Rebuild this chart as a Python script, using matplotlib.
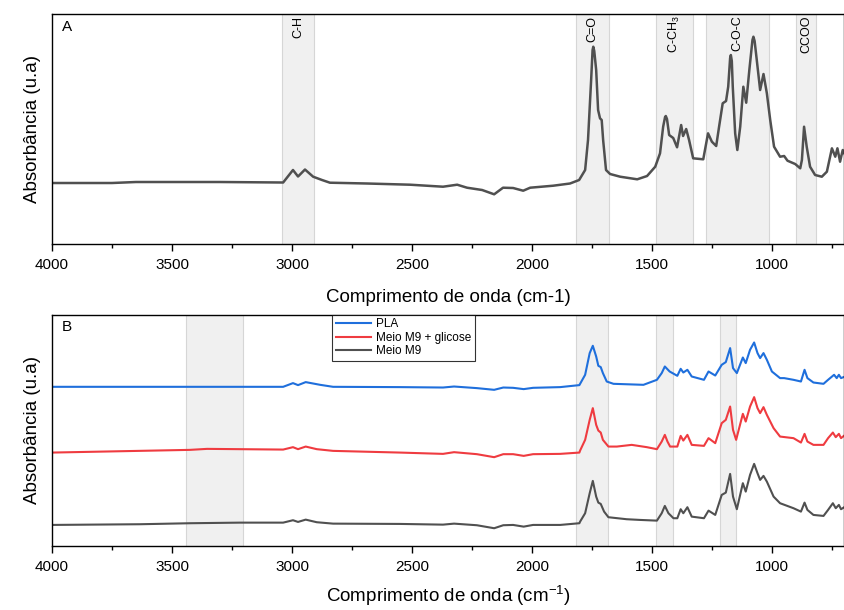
import matplotlib
matplotlib.use("Agg")
import matplotlib.pyplot as plt
from matplotlib.ticker import MultipleLocator

plt.rcParams['font.family'] = ['Liberation Sans', 'DejaVu Sans']
plt.rcParams['mathtext.fontset'] = 'custom'
plt.rcParams['mathtext.rm'] = 'Liberation Sans'
plt.rcParams['mathtext.it'] = 'Liberation Sans:italic'

# --- espectro do PLA (painel A), absorbancia relativa a linha de base ---
wn_a = [4000, 3750, 3650, 3300, 3037, 2996, 2975, 2946, 2912, 2875, 2842, 2687,
        2508, 2371, 2312, 2271, 2208, 2158, 2121, 2079, 2037, 2008, 1912, 1842,
        1804, 1779, 1767, 1754, 1748, 1745, 1741, 1733, 1725, 1717, 1710, 1704,
        1692, 1675, 1633, 1562, 1521, 1487, 1467, 1454, 1446, 1443, 1438, 1429,
        1412, 1396, 1379, 1371, 1358, 1346, 1329, 1287, 1267, 1251, 1233, 1221,
        1206, 1192, 1183, 1175, 1172, 1168, 1164, 1154, 1145, 1133, 1120, 1108,
        1095, 1082, 1078, 1073, 1064, 1050, 1036, 1022, 1008, 992, 967, 950, 936,
        904, 883, 876, 867, 856, 842, 821, 793, 772, 751, 737, 728, 717, 706, 696]
abs_a = [0.00, 0.00, 0.01, 0.01, 0.005, 0.13, 0.065, 0.135, 0.063, 0.03, 0.003, -0.005,
         -0.017, -0.037, -0.017, -0.047, -0.07, -0.113, -0.047, -0.05, -0.077, -0.047, -0.027, -0.005,
         0.03, 0.13, 0.43, 1.03, 1.33, 1.363, 1.32, 1.13, 0.73, 0.647, 0.63, 0.43,
         0.13, 0.09, 0.063, 0.037, 0.07, 0.163, 0.297, 0.563, 0.66, 0.67, 0.64, 0.48,
         0.45, 0.357, 0.58, 0.47, 0.54, 0.43, 0.247, 0.237, 0.497, 0.413, 0.37, 0.563,
         0.797, 0.82, 0.963, 1.25, 1.28, 1.22, 0.963, 0.497, 0.33, 0.563, 0.963, 0.803,
         1.13, 1.43, 1.463, 1.42, 1.23, 0.93, 1.09, 0.897, 0.63, 0.363, 0.263, 0.27, 0.223,
         0.19, 0.147, 0.23, 0.563, 0.363, 0.163, 0.08, 0.063, 0.113, 0.347, 0.263, 0.347, 0.213, 0.33, 0.28]

# --- painel B: PLA, meio M9 + glicose e meio M9 ---
wn_pla = [4000, 3037, 2996, 2975, 2943, 2883, 2829, 2550, 2371, 2325, 2230, 2158,
          2120, 2079, 2035, 1996, 1883, 1803, 1779, 1760, 1747, 1733, 1724, 1714,
          1705, 1689, 1661, 1536, 1480, 1460, 1447, 1427, 1395, 1381, 1370, 1353,
          1335, 1284, 1265, 1237, 1210, 1193, 1175, 1163, 1147, 1122, 1110, 1092,
          1075, 1061, 1050, 1036, 1022, 1001, 967, 950, 911, 880, 865, 853, 828,
          786, 767, 742, 731, 722, 713, 696]
abs_pla = [0.00, 0.00, 0.037, 0.017, 0.047, 0.02, 0.00, -0.003, -0.007, 0.003, -0.013, -0.03,
           -0.007, -0.01, -0.023, -0.01, -0.003, 0.017, 0.12, 0.337, 0.41, 0.303, 0.21, 0.197,
           0.137, 0.053, 0.03, 0.02, 0.07, 0.137, 0.203, 0.153, 0.11, 0.18, 0.143, 0.17,
           0.103, 0.07, 0.153, 0.113, 0.22, 0.247, 0.387, 0.187, 0.137, 0.293, 0.237, 0.37,
           0.443, 0.337, 0.287, 0.337, 0.27, 0.153, 0.087, 0.087, 0.07, 0.053, 0.17, 0.087, 0.043,
           0.03, 0.07, 0.12, 0.087, 0.12, 0.087, 0.103]

wn_glic = [4000, 3425, 3354, 3037, 2996, 2975, 2943, 2897, 2829, 2550, 2371, 2325,
           2230, 2158, 2120, 2079, 2035, 1996, 1883, 1803, 1800, 1779, 1760, 1747,
           1733, 1724, 1714, 1705, 1682, 1647, 1585, 1522, 1480, 1460, 1447, 1436,
           1425, 1395, 1381, 1370, 1353, 1335, 1284, 1265, 1237, 1210, 1193, 1175,
           1163, 1150, 1122, 1110, 1092, 1075, 1061, 1050, 1036, 1022, 994, 967, 911,
           880, 865, 853, 828, 786, 767, 747, 735, 722, 713, 696]
abs_glic = [0.003, 0.03, 0.04, 0.033, 0.057, 0.037, 0.063, 0.037, 0.02, 0.003, -0.01, 0.007,
            -0.013, -0.043, -0.013, -0.013, -0.03, -0.013, -0.01, 0.003, 0.023, 0.13, 0.33, 0.447,
            0.28, 0.223, 0.203, 0.13, 0.063, 0.063, 0.08, 0.057, 0.037, 0.113, 0.18, 0.113,
            0.063, 0.063, 0.17, 0.123, 0.18, 0.08, 0.07, 0.147, 0.097, 0.297, 0.33, 0.463,
            0.23, 0.13, 0.39, 0.313, 0.463, 0.557, 0.447, 0.397, 0.457, 0.38, 0.247, 0.163, 0.147,
            0.103, 0.19, 0.113, 0.08, 0.08, 0.147, 0.203, 0.157, 0.19, 0.147, 0.18]

wn_m9 = [4000, 3633, 3425, 3217, 3037, 2996, 2975, 2943, 2897, 2829, 2550, 2371,
         2325, 2230, 2158, 2120, 2079, 2035, 1996, 1883, 1803, 1800, 1779, 1760,
         1747, 1733, 1724, 1714, 1700, 1682, 1606, 1550, 1480, 1460, 1447, 1432,
         1411, 1395, 1381, 1370, 1353, 1335, 1284, 1265, 1237, 1210, 1193, 1175,
         1163, 1147, 1122, 1110, 1092, 1075, 1061, 1050, 1036, 1022, 994, 967, 911,
         880, 865, 853, 828, 786, 767, 747, 735, 722, 713, 696]
abs_m9 = [0.00, 0.007, 0.017, 0.023, 0.023, 0.047, 0.03, 0.053, 0.027, 0.013, 0.01, 0.003,
          0.013, -0.003, -0.033, -0.003, 0.00, -0.017, 0.00, 0.00, 0.017, 0.033, 0.117, 0.317,
          0.44, 0.283, 0.223, 0.21, 0.133, 0.077, 0.057, 0.05, 0.043, 0.117, 0.19, 0.117,
          0.067, 0.067, 0.157, 0.117, 0.177, 0.083, 0.067, 0.143, 0.10, 0.30, 0.323, 0.51,
          0.283, 0.157, 0.417, 0.333, 0.50, 0.61, 0.517, 0.45, 0.49, 0.433, 0.283, 0.217, 0.167,
          0.133, 0.223, 0.15, 0.10, 0.09, 0.15, 0.217, 0.167, 0.20, 0.157, 0.183]

# faixas das bandas atribuidas (cm-1)
bandas_a = [(3040, 2910), (1815, 1680), (1485, 1330), (1275, 1015), (900, 817)]
rotulos_a = ['C-H', 'C=O', 'C-CH$_3$', 'C-O-C', 'CCOO']
bandas_b = [(3440, 3205), (1818, 1683), (1483, 1413), (1218, 1151)]

cor_cinza = '#505050'
cor_azul = '#1f6fdc'
cor_vermelho = '#ef3b40'

fig = plt.figure(figsize=(8.45, 6.1), dpi=100)
ax1 = fig.add_axes([0.0615, 0.6, 0.9375, 0.377])
ax2 = fig.add_axes([0.0615, 0.105, 0.9375, 0.379])


def estilo_eixo(ax):
    ax.set_xlim(4000, 700)
    ax.xaxis.set_major_locator(MultipleLocator(500))
    ax.xaxis.set_minor_locator(MultipleLocator(250))
    ax.tick_params(axis='x', which='major', length=5, width=1, labelsize=11,
                   direction='out', pad=5)
    ax.tick_params(axis='x', which='minor', length=3, width=1, direction='out')
    ax.set_yticks([])
    ax.set_ylabel('Absorbância (u.a)', fontsize=13.5, labelpad=8)
    for s in ax.spines.values():
        s.set_linewidth(1.0)


# painel A
for (a, b), rot in zip(bandas_a, rotulos_a):
    ax1.axvspan(a, b, facecolor='#f0f0f0', edgecolor='#d6d6d6', lw=0.8, zorder=0)
    ax1.text((a + b) / 2, 1.675, rot, rotation=90, ha='center', va='top', fontsize=9)
ax1.plot(wn_a, abs_a, color=cor_cinza, lw=1.8, solid_joinstyle='round')
ax1.set_ylim(-0.61, 1.69)
estilo_eixo(ax1)
ax1.set_xlabel('Comprimento de onda (cm-1)', fontsize=13.5, labelpad=12)
ax1.text(0.012, 0.945, 'A', transform=ax1.transAxes, fontsize=11, va='center')

# painel B - espectros deslocados verticalmente
for a, b in bandas_b:
    ax2.axvspan(a, b, facecolor='#f0f0f0', edgecolor='#d6d6d6', lw=0.8, zorder=0)
ax2.plot(wn_pla, [v + 1.59 for v in abs_pla], color=cor_azul, lw=1.5, label='PLA')
ax2.plot(wn_glic, [v + 0.93 for v in abs_glic], color=cor_vermelho, lw=1.5, label='Meio M9 + glicose')
ax2.plot(wn_m9, [v + 0.21 for v in abs_m9], color=cor_cinza, lw=1.5, label='Meio M9')
ax2.set_ylim(0, 2.31)
estilo_eixo(ax2)
ax2.set_xlabel('Comprimento de onda (cm$^{-1}$)', fontsize=13.5, labelpad=7)
ax2.text(0.012, 0.945, 'B', transform=ax2.transAxes, fontsize=11, va='center')

leg = ax2.legend(loc='upper left', bbox_to_anchor=(0.354, 1.0), fontsize=8.5, frameon=True,
                 fancybox=False, edgecolor='black', borderaxespad=0, handlelength=3.0,
                 labelspacing=0.12, borderpad=0.3, handletextpad=0.4)
leg.get_frame().set_linewidth(0.8)

fig.savefig('out.png', dpi=100)
